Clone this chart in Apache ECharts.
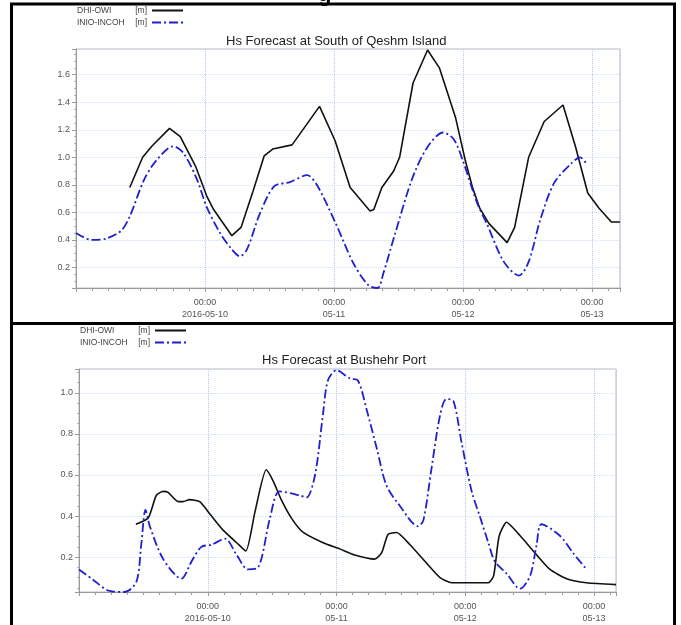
<!DOCTYPE html>
<html>
<head>
<meta charset="utf-8">
<script src="https://cdn.jsdelivr.net/npm/echarts@6/dist/echarts.min.js"></script>
<style>
  html, body { margin: 0; padding: 0; background: #fff; }
  #chart { width: 681px; height: 625px; }
</style>
</head>
<body>
<div id="chart"></div>
<script>
// hours counted from 2016-05-09 00:00
var dayLabels = ['2016-05-10', '05-11', '05-12', '05-13'];
var seriesNames = ['DHI-OWI', 'INIO-INCOH'];

// South of Qeshm Island
var qeshmOwiHours = [10, 12.4, 14.1, 17.4, 19.4, 22.3, 24.3, 25.6, 29.0, 30.7, 32.9, 35.0, 36.6, 40.2, 45.3, 48.2, 51.0, 54.7, 55.4, 56.9, 59.1, 60.2, 62.7, 65.4, 67.6, 70.6, 72.4, 73.7, 75.1, 76.8, 80.2, 81.6, 84.2, 87.1, 90.6, 92.9, 95.2, 97.3, 99.6, 101.2];
var qeshmOwiValues = [0.78, 1.00, 1.08, 1.21, 1.15, 0.93, 0.72, 0.62, 0.43, 0.49, 0.75, 1.01, 1.06, 1.09, 1.37, 1.12, 0.78, 0.61, 0.62, 0.78, 0.90, 1.00, 1.54, 1.78, 1.65, 1.29, 0.98, 0.79, 0.63, 0.52, 0.38, 0.49, 1.00, 1.26, 1.38, 1.08, 0.74, 0.63, 0.53, 0.53];
var qeshmIncoisHours = [0, 2.9, 5.7, 8.5, 10.1, 12.7, 15.0, 18.1, 20.0, 22.5, 24.3, 26.8, 29.0, 30.5, 31.8, 34.3, 36.9, 39.8, 43.0, 44.8, 48.2, 51.6, 54.4, 56.1, 57.2, 59.4, 62.5, 65.3, 68.3, 70.3, 72.1, 74.6, 76.5, 79.6, 82.4, 84.2, 86.4, 88.9, 92.0, 93.8, 95.0];
var qeshmIncoisValues = [0.45, 0.40, 0.41, 0.47, 0.58, 0.84, 0.98, 1.08, 1.03, 0.84, 0.64, 0.45, 0.33, 0.28, 0.33, 0.60, 0.79, 0.82, 0.87, 0.80, 0.53, 0.23, 0.07, 0.05, 0.16, 0.45, 0.84, 1.07, 1.18, 1.13, 0.96, 0.67, 0.51, 0.24, 0.14, 0.24, 0.55, 0.81, 0.95, 1.00, 0.95];

// Bushehr Port
var bushehrOwiHours = [10.6, 12.9, 14.4, 15.7, 16.6, 18.5, 19.4, 20.6, 22.5, 24.4, 26.9, 29.4, 31.1, 32.8, 34.9, 36.2, 37.7, 39.6, 41.8, 45.5, 48.6, 51.4, 55.1, 56.4, 57.6, 59.2, 61.7, 64.8, 67.3, 69.5, 76.3, 77.3, 78.3, 79.7, 82.2, 85.0, 87.8, 90.9, 94.6, 100.1];
var bushehrOwiValues = [0.36, 0.39, 0.50, 0.52, 0.515, 0.47, 0.47, 0.48, 0.47, 0.41, 0.33, 0.27, 0.23, 0.42, 0.625, 0.57, 0.48, 0.39, 0.32, 0.27, 0.24, 0.21, 0.19, 0.22, 0.31, 0.32, 0.26, 0.17, 0.10, 0.075, 0.075, 0.11, 0.30, 0.37, 0.305, 0.22, 0.14, 0.095, 0.075, 0.066];
var bushehrIncoisHours = [0, 2.6, 5.7, 8.5, 10.7, 11.6, 12.4, 13.2, 15.7, 19.1, 21.0, 22.8, 24.7, 27.2, 29.4, 31.5, 33.4, 35.6, 37.4, 41.2, 42.4, 44.0, 45.5, 46.4, 48.0, 50.5, 52.0, 53.6, 55.5, 57.3, 59.8, 63.2, 64.2, 65.7, 67.3, 68.5, 69.8, 71.3, 73.2, 74.7, 76.3, 77.5, 79.7, 82.2, 84.1, 85.3, 86.2, 89.6, 92.1, 94.6];
var bushehrIncoisValues = [0.14, 0.09, 0.035, 0.03, 0.08, 0.26, 0.43, 0.35, 0.19, 0.095, 0.18, 0.25, 0.26, 0.29, 0.21, 0.14, 0.15, 0.39, 0.52, 0.50, 0.49, 0.60, 0.90, 1.06, 1.11, 1.07, 1.06, 0.92, 0.73, 0.55, 0.45, 0.35, 0.38, 0.63, 0.89, 0.97, 0.96, 0.76, 0.52, 0.40, 0.27, 0.18, 0.12, 0.046, 0.11, 0.26, 0.36, 0.305, 0.22, 0.14];

function pairs(xs, ys) {
  var out = [];
  for (var i = 0; i < xs.length; i++) out.push([xs[i], ys[i]]);
  return out;
}

var font = 'Liberation Sans, Arial, sans-serif';
var blueDash = [9, 3, 2, 3];

function xAxisFor(gridIndex, max) {
  return {
    type: 'value',
    gridIndex: gridIndex,
    min: 0,
    max: max,
    interval: 24,
    axisLine: { show: true, lineStyle: { color: '#9a9a9a' } },
    axisTick: { show: true, length: 4, lineStyle: { color: '#9a9a9a' } },
    minorTick: { show: true, splitNumber: 8, length: 3, lineStyle: { color: '#9a9a9a' } },
    axisLabel: {
      color: '#555', fontSize: 9, fontFamily: font, lineHeight: 12, margin: 9,
      showMinLabel: false,
      formatter: function (v) {
        if (v === 0 || v % 24 !== 0) return '';
        return '00:00\n' + dayLabels[v / 24 - 1];
      }
    },
    splitLine: { show: true, lineStyle: { color: '#b7c4ef', type: 'dotted' } }
  };
}

function yAxisFor(gridIndex, min, max, split) {
  return {
    type: 'value',
    gridIndex: gridIndex,
    min: min,
    max: max,
    splitNumber: split,
    axisLine: { show: true, lineStyle: { color: '#9a9a9a' } },
    axisTick: { show: true, length: 4, lineStyle: { color: '#9a9a9a' } },
    minorTick: { show: true, splitNumber: 4, length: 2, lineStyle: { color: '#b0b0b0' } },
    axisLabel: {
      color: '#555', fontSize: 9, fontFamily: font, margin: 6,
      showMinLabel: false, showMaxLabel: false,
      formatter: function (v) { return v.toFixed(1); }
    },
    splitLine: { show: true, lineStyle: { color: '#cfe0f5', type: 'dotted' } }
  };
}

function legendFor(left, top) {
  return {
    orient: 'vertical',
    left: left,
    top: top,
    align: 'right',
    padding: 0,
    itemGap: 3,
    itemWidth: 31,
    itemHeight: 8,
    data: seriesNames,
    itemStyle: { opacity: 0 },
    formatter: function (name) { return '{n|' + name + '}{u|[m]}'; },
    textStyle: {
      color: '#444', fontSize: 8.5, fontFamily: font, width: 70, align: 'left',
      rich: {
        n: { width: 56, align: 'left', fontSize: 8.5, fontFamily: font, color: '#444' },
        u: { fontSize: 8.5, fontFamily: font, color: '#444' }
      }
    }
  };
}

var chart = echarts.init(document.getElementById('chart'));
chart.setOption({
  backgroundColor: '#fff',
  animation: false,
  title: [
    { text: 'Hs Forecast at South of Qeshm Island', left: 226, top: 35, padding: 0,
      textStyle: { fontSize: 13, fontWeight: 'normal', color: '#222', fontFamily: font } },
    { text: 'Hs Forecast at Bushehr Port', left: 262, top: 354, padding: 0,
      textStyle: { fontSize: 13, fontWeight: 'normal', color: '#222', fontFamily: font } }
  ],
  legend: [legendFor(77, 6), legendFor(80, 326)],
  grid: [
    { left: 76, top: 49, width: 544, height: 239, show: true, borderColor: '#bbb', borderWidth: 1 },
    { left: 79, top: 369, width: 537, height: 224, show: true, borderColor: '#bbb', borderWidth: 1 }
  ],
  xAxis: [xAxisFor(0, 101.2), xAxisFor(1, 100.1)],
  yAxis: [yAxisFor(0, 0.05, 1.787, 9), yAxisFor(1, 0.03, 1.116, 5)],
  graphic: [
    { type: 'rect', shape: { x: 11.5, y: 4, width: 663, height: 319.5 },
      style: { fill: 'none', stroke: '#000', lineWidth: 3 }, silent: true },
    { type: 'rect', shape: { x: 11.5, y: 323.5, width: 663, height: 310 },
      style: { fill: 'none', stroke: '#000', lineWidth: 3 }, silent: true },
    { type: 'text', left: 318, top: -16,
      style: { text: 'g', fill: '#000', font: 'bold 22px Liberation Sans' }, silent: true }
  ],
  series: [
    { name: 'DHI-OWI', type: 'line', xAxisIndex: 0, yAxisIndex: 0, symbol: 'none',
      lineStyle: { color: '#111', width: 1.6 }, itemStyle: { color: '#111' },
      data: pairs(qeshmOwiHours, qeshmOwiValues) },
    { name: 'INIO-INCOH', type: 'line', xAxisIndex: 0, yAxisIndex: 0, symbol: 'none', smooth: 0.3,
      lineStyle: { color: '#2020cc', width: 1.8, type: blueDash }, itemStyle: { color: '#2020cc' },
      data: pairs(qeshmIncoisHours, qeshmIncoisValues) },
    { name: 'DHI-OWI', type: 'line', xAxisIndex: 1, yAxisIndex: 1, symbol: 'none', smooth: 0.2,
      lineStyle: { color: '#111', width: 1.6 }, itemStyle: { color: '#111' },
      data: pairs(bushehrOwiHours, bushehrOwiValues) },
    { name: 'INIO-INCOH', type: 'line', xAxisIndex: 1, yAxisIndex: 1, symbol: 'none', smooth: 0.3,
      lineStyle: { color: '#2020cc', width: 1.8, type: blueDash }, itemStyle: { color: '#2020cc' },
      data: pairs(bushehrIncoisHours, bushehrIncoisValues) }
  ]
});
</script>
</body>
</html>
